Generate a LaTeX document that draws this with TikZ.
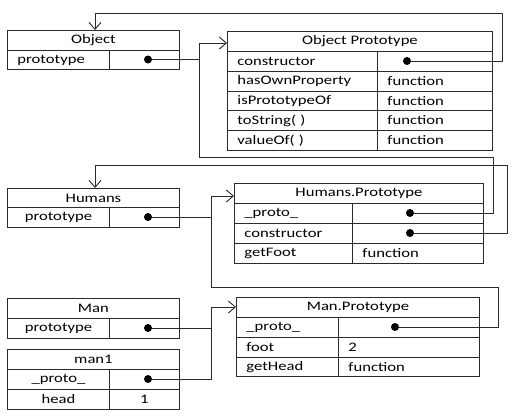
\documentclass[tikz,border=0pt]{standalone}
\usepackage{fontspec}
\setmainfont{Carlito}[FakeStretch=1.28]
\usetikzlibrary{arrows.meta}
\definecolor{ln}{HTML}{2B2B2B}
\begin{document}
\begin{tikzpicture}[x=1pt,y=-1pt,
 cell/.style={draw=ln, line width=0.9pt, anchor=north west, inner ysep=0pt, inner xsep=10pt, font=\fontsize{13}{15}\selectfont, text=black},
 ct/.style={cell, align=center, minimum width=#1},
 lt/.style={cell, align=left, text width=#1},
 hh/.style={minimum height=#1},
 blob/.style={circle, fill=black, inner sep=0pt, minimum size=8pt},
 conn/.style={draw=ln, line width=0.9pt},
 arr/.style={conn, -{Straight Barb[length=7pt,width=12pt,line width=0.9pt]}}
]
\fill[white] (0,0) rectangle (519,418);
\useasboundingbox (0,0) rectangle (519,418);

% Object
\node[ct=172pt, hh=20pt] (objT) at (7,30) {Object};
\node[lt=82pt, hh=19pt] (objK) at (7,50) {prototype};
\node[ct=70pt, hh=19pt] (objV) at (109,50) {};
\node[blob] (objdot) at (148,59.5) {};

% Object Prototype
\node[ct=265pt, hh=20pt] (opT) at (227,31) {Object Prototype};
\node[lt=130pt, hh=20pt] (opK1) at (227,51) {constructor};
\node[lt=95pt, hh=20pt] (opV1) at (377,51) {};
\node[lt=130pt, hh=20pt] (opK2) at (227,71) {hasOwnProperty};
\node[lt=95pt, hh=20pt] (opV2) at (377,71) {function};
\node[lt=130pt, hh=19pt] (opK3) at (227,91) {isPrototypeOf};
\node[lt=95pt, hh=19pt] (opV3) at (377,91) {function};
\node[lt=130pt, hh=20pt] (opK4) at (227,110) {toString( )};
\node[lt=95pt, hh=20pt] (opV4) at (377,110) {function};
\node[lt=130pt, hh=20pt] (opK5) at (227,130) {valueOf( )};
\node[lt=95pt, hh=20pt] (opV5) at (377,130) {function};
\node[blob] (opdot) at (407,61) {};

% Humans
\node[ct=172pt, hh=19pt] (humT) at (7,188) {Humans};
\node[ct=102pt, hh=20pt] (humK) at (7,207) {prototype};
\node[ct=70pt, hh=20pt] (humV) at (109,207) {};
\node[blob] (humdot) at (148,217) {};

% Humans.Prototype
\node[ct=249pt, hh=20pt] (hpT) at (234,183) {Humans.Prototype};
\node[lt=98pt, hh=20pt] (hpK1) at (234,203) {\_proto\_};
\node[lt=111pt, hh=20pt] (hpV1) at (352,203) {};
\node[lt=98pt, hh=20pt] (hpK2) at (234,223) {constructor};
\node[lt=111pt, hh=20pt] (hpV2) at (352,223) {};
\node[lt=98pt, hh=20pt] (hpK3) at (234,243) {getFoot};
\node[lt=111pt, hh=20pt] (hpV3) at (352,243) {function};
\node[blob] (hpdot1) at (410,213) {};
\node[blob] (hpdot2) at (410,233) {};

% Man
\node[ct=172pt, hh=20pt] (manT) at (7,298) {Man};
\node[ct=102pt, hh=20pt] (manK) at (7,318) {prototype};
\node[ct=70pt, hh=20pt] (manV) at (109,318) {};
\node[blob] (mandot) at (148,328) {};

% man1
\node[ct=172pt, hh=20pt] (m1T) at (7,349) {man1};
\node[ct=102pt, hh=20pt] (m1K1) at (7,369) {\_proto\_};
\node[ct=70pt, hh=20pt] (m1V1) at (109,369) {};
\node[ct=102pt, hh=20pt] (m1K2) at (7,389) {head};
\node[ct=70pt, hh=20pt] (m1V2) at (109,389) {1};
\node[blob] (m1dot) at (148,379) {};

% Man.Prototype
\node[ct=243pt, hh=20pt] (mpT) at (236,297) {Man.Prototype};
\node[lt=82pt, hh=20pt] (mpK1) at (236,317) {\_proto\_};
\node[lt=121pt, hh=20pt] (mpV1) at (338,317) {};
\node[lt=82pt, hh=20pt] (mpK2) at (236,337) {foot};
\node[lt=121pt, hh=20pt] (mpV2) at (338,337) {2};
\node[lt=82pt, hh=19pt] (mpK3) at (236,357) {getHead};
\node[lt=121pt, hh=19pt] (mpV3) at (338,357) {function};
\node[blob] (mpdot) at (395,327) {};

% connectors
\coordinate (j1) at (199,43);
\coordinate (j2) at (95,13);
\coordinate (j3) at (95,165);
\coordinate (j4) at (211,196);
\coordinate (j5) at (211,307);

\draw[arr] (hpdot1.east) -| (493,157) -| (j1) -- (j1 -| opT.west);
\draw[conn] (objdot.east) -- (objdot -| j1);
\draw[arr] (opdot.east) -| (502,13) -- (j2) -- (j2 |- objT.north);
\draw[arr] (hpdot2.east) -| (507,165) -- (j3) -- (j3 |- humT.north);
\draw[conn] (humdot.east) -- (humdot -| j4);
\draw[arr] (mpdot.east) -| (498,287) -| (j4) -- (j4 -| hpT.west);
\draw[conn] (mandot.east) -- (mandot -| j5);
\draw[arr] (m1dot.east) -| (j5) -- (j5 -| mpT.west);
\end{tikzpicture}
\end{document}
